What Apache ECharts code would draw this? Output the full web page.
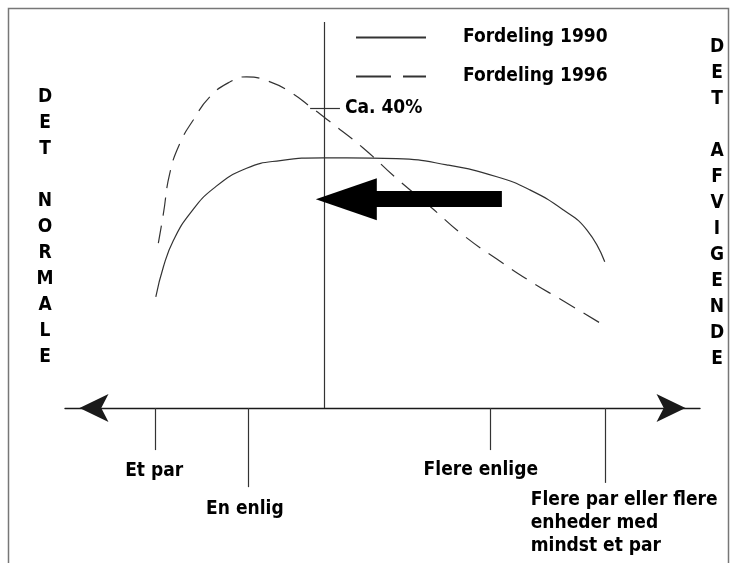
<!DOCTYPE html>
<html>
<head>
<meta charset="utf-8">
<script src="https://cdn.jsdelivr.net/npm/echarts@6/dist/echarts.min.js"></script>
<style>
  html, body { margin: 0; padding: 0; background: #fff; }
  #chart { width: 738px; height: 563px; }
</style>
</head>
<body>
<div id="chart"></div>
<script>
// husstandstyper langs aksen (skala 0-100)
const categories = ['Et par', 'En enlig', 'Flere enlige', 'Flere par eller flere\nenheder med\nmindst et par'];
const categoryX = [14.2, 28.8, 66.9, 85.0];

const seriesNames = ['Fordeling 1990', 'Fordeling 1996'];
const x1990 = [14.3, 15.5, 17.1, 19.7, 23.4, 28.6, 33.9, 40.7, 44.4, 52.2, 60.1, 68.0, 73.2, 78.5, 82.2, 85.0];
const y1990 = [28.8, 36.6, 43.5, 50.4, 56.9, 62.1, 64.1, 64.8, 64.8, 64.6, 63.0, 59.9, 56.5, 51.3, 46.1, 37.9];
const x1996 = [14.7, 15.5, 16.5, 18.1, 20.2, 22.8, 26.0, 28.6, 32.3, 35.4, 38.6, 41.7, 47.0, 52.2, 57.5, 62.7, 68.0, 73.2, 78.5, 84.8];
const y1996 = [42.7, 50.4, 60.8, 68.6, 74.6, 80.6, 84.5, 85.8, 84.5, 81.9, 78.1, 74.2, 67.3, 59.5, 52.2, 44.8, 38.6, 32.9, 27.7, 21.5];

const markerX = 40.9;
const markerY = 77.7;
const markerLabel = 'Ca. 40%';

const shiftFrom = 68.8;
const shiftTo = 44.3;
const shiftY = 54.1;

const leftTitle = ['DET', 'NORMALE'];
const rightTitle = ['DET', 'AFVIGENDE'];

const FONT = '"DejaVu Sans Condensed", "Liberation Sans Narrow", "DejaVu Sans", sans-serif';

var myChart = echarts.init(document.getElementById('chart'));

function vertical(words) {
  return words.map(w => w.split('').join('\n')).join('\n\n');
}

// tick lengths under the axis and label offsets (px)
const tickEnd = [-10.9, -20.5, -10.9, -19.4];
const labelPos = [
  { offset: [-1, 21], align: 'center' },
  { offset: [-3, 22], align: 'center' },
  { offset: [-9, 20], align: 'center' },
  { offset: [-74, 40], align: 'left' }
];

const pairs = (xs, ys) => xs.map((x, i) => [x, ys[i]]);

myChart.setOption({
  animation: false,
  grid: { left: 65, right: 38, top: 22, bottom: 0.6, outerBoundsMode: 'none' },
  xAxis: {
    type: 'value', min: 0, max: 100,
    axisLine: {
      onZero: true,
      symbol: ['arrow', 'arrow'],
      symbolSize: [21, 29],
      symbolOffset: [14.5, -14.5],
      lineStyle: { color: '#1a1a1a', width: 1.4 }
    },
    axisTick: { show: false },
    axisLabel: { show: false },
    splitLine: { show: false }
  },
  yAxis: {
    type: 'value', min: -40, max: 100, show: false,
    splitLine: { show: false }
  },
  legend: {
    orient: 'vertical', left: 350, top: 23,
    itemWidth: 70, itemHeight: 14, itemGap: 20,
    selectedMode: false,
    itemStyle: { opacity: 0 },
    data: [
      { name: seriesNames[0] },
      { name: seriesNames[1], lineStyle: { type: [35, 12] } }
    ],
    textStyle: { fontFamily: FONT, fontWeight: 'bold', fontSize: 19, color: '#000', padding: [0, 0, 0, 32] }
  },
  graphic: [
    {
      type: 'polyline', silent: true,
      shape: { points: [[8.5, 563], [8.5, 8.5], [728.5, 8.5], [728.5, 563]] },
      style: { stroke: '#777', lineWidth: 1.5, fill: null }
    },
    {
      type: 'text', x: 45, y: 84,
      style: { text: vertical(leftTitle), font: 'bold 19px ' + FONT, align: 'center', verticalAlign: 'top', lineHeight: 26, fill: '#000' }
    },
    {
      type: 'text', x: 717, y: 34,
      style: { text: vertical(rightTitle), font: 'bold 19px ' + FONT, align: 'center', verticalAlign: 'top', lineHeight: 26, fill: '#000' }
    }
  ],
  series: [
    {
      name: seriesNames[0],
      type: 'line',
      smooth: true,
      symbol: 'none',
      itemStyle: { color: '#333' },
      lineStyle: { color: '#333', width: 1.2 },
      data: pairs(x1990, y1990),
      markLine: {
        silent: true,
        symbol: 'none',
        label: { show: false },
        lineStyle: { color: '#333', type: 'solid', width: 1.2 },
        data: [
          [{ coord: [markerX, 0] }, { coord: [markerX, 100] }]
        ].concat(categoryX.map((x, i) => [{ coord: [x, 0] }, { coord: [x, tickEnd[i]] }]))
      },
      markPoint: {
        silent: true,
        symbol: 'circle',
        symbolSize: 0,
        data: categories.map((c, i) => ({
          coord: [categoryX[i], tickEnd[i]],
          label: {
            show: true,
            formatter: c,
            position: 'inside',
            offset: labelPos[i].offset,
            align: labelPos[i].align,
            fontFamily: FONT, fontWeight: 'bold', fontSize: 19, color: '#000', lineHeight: 23
          }
        }))
      }
    },
    {
      name: seriesNames[1],
      type: 'line',
      smooth: true,
      symbol: 'none',
      itemStyle: { color: '#333' },
      lineStyle: { color: '#333', width: 1.2, type: [18, 10] },
      data: pairs(x1996, y1996),
      markLine: {
        silent: true,
        data: [
          [
            { coord: [markerX - 2.3, markerY], symbol: 'none', lineStyle: { color: '#333', width: 1.2, type: 'solid' },
              label: { show: true, position: 'end', distance: 5, formatter: markerLabel,
                fontFamily: FONT, fontWeight: 'bold', fontSize: 19, color: '#000' } },
            { coord: [markerX + 2.4, markerY], symbol: 'none' }
          ],
          [
            { coord: [shiftFrom, shiftY], symbol: 'none', lineStyle: { color: '#000', width: 16, type: 'solid' },
              label: { show: false } },
            { coord: [shiftTo, shiftY], symbol: 'triangle', symbolSize: [42, 61] }
          ]
        ]
      }
    }
  ]
});
</script>
</body>
</html>
